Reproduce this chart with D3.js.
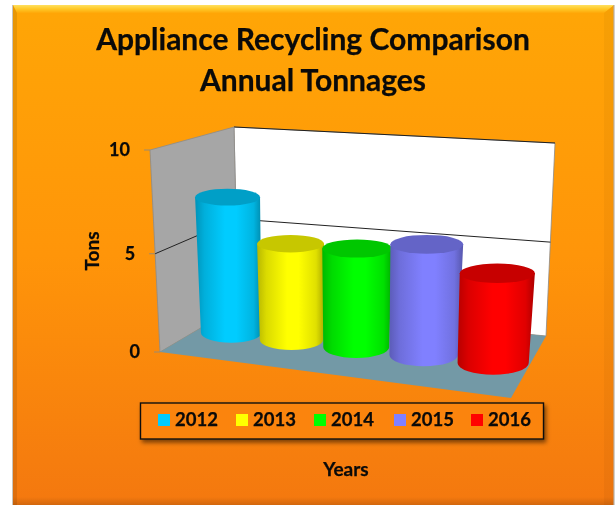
<!DOCTYPE html>
<html><head><meta charset="utf-8">
<script src="https://cdnjs.cloudflare.com/ajax/libs/d3/7.8.5/d3.min.js"></script>
<style>html,body{margin:0;padding:0;background:#fff}svg{display:block;filter:blur(.45px)}text{font-family:Lato,"Open Sans",sans-serif;font-weight:700;fill:#0a0a0a;stroke:#0a0a0a;stroke-width:.25px}</style>
</head><body><div id="c"></div>
<script>
const years = ["2012","2013","2014","2015","2016"];
const tons = [7.15, 5.05, 5.1, 5.6, 4.5];
const colors = ["#00ccff","#ffff00","#00ff00","#8080ff","#ff0000"];
const valueTicks = [0,5,10];
const titleLines = ["Appliance Recycling Comparison","Annual Tonnages"];

const W=615,H=505;
const svg=d3.select("#c").append("svg").attr("width",W).attr("height",H);
const defs=svg.append("defs");

const corners={
  fl0:[160,352], fl1:[150,150], bl0:[238,306], bl1:[234,127],
  fr0:[511,398], fr1:[525,176], br0:[546,336], br1:[555,143]
};
const mix=(a,b,t)=>[a[0]+(b[0]-a[0])*t,a[1]+(b[1]-a[1])*t];
function project(u,v,d){
  const fl=mix(corners.fl0,corners.fl1,v), fr=mix(corners.fr0,corners.fr1,v);
  const bl=mix(corners.bl0,corners.bl1,v), br=mix(corners.br0,corners.br1,v);
  return mix(mix(fl,fr,u),mix(bl,br,u),d);
}
const yScale=d3.scalePow().exponent(1.04).domain([0,10]).range([0,1]);
const band=d3.scaleBand().domain(years).range([0,1]);
const uScale=d3.scalePow().exponent(1.1).domain([0,1]).range([.02,1]);
const widthScale=d3.scaleLinear().domain([.1,.9]).range([.092,.108]);
const line=d3.line();

// background
const bg=defs.append("linearGradient").attr("id","bg").attr("x1",0).attr("y1",0).attr("x2",0).attr("y2",1);
bg.append("stop").attr("offset",0).attr("stop-color","#ffa606");
bg.append("stop").attr("offset",.5).attr("stop-color","#ff9509");
bg.append("stop").attr("offset",1).attr("stop-color","#f4780f");
const topB=defs.append("linearGradient").attr("id","topB").attr("x1",0).attr("y1",0).attr("x2",0).attr("y2",1);
topB.append("stop").attr("offset",0).attr("stop-color","#ffe060");
topB.append("stop").attr("offset",.5).attr("stop-color","#ffc826");
topB.append("stop").attr("offset",1).attr("stop-color","#ffa808");
const botB=defs.append("linearGradient").attr("id","botB").attr("x1",0).attr("y1",0).attr("x2",0).attr("y2",1);
botB.append("stop").attr("offset",0).attr("stop-color","#000").attr("stop-opacity",0);
botB.append("stop").attr("offset",1).attr("stop-color","#000").attr("stop-opacity",.14);
svg.append("rect").attr("x",13).attr("y",5).attr("width",601).attr("height",500).attr("fill","url(#bg)");
svg.append("path").attr("d","M13,5H614L604,13H17Z").attr("fill","url(#topB)");
svg.append("path").attr("d","M13,5L17,13V505H13Z").attr("fill","#000").attr("opacity",.09);
svg.append("path").attr("d","M614,5L604,13V505H614Z").attr("fill","#000").attr("opacity",.035);
svg.append("rect").attr("x",13).attr("y",497).attr("width",601).attr("height",8).attr("fill","url(#botB)");
svg.append("line").attr("x1",614).attr("x2",614).attr("y1",5).attr("y2",505).attr("stroke","#b9b0a4").attr("stroke-width",1.2);
svg.append("line").attr("x1",12.5).attr("x2",12.5).attr("y1",5).attr("y2",505).attr("stroke","#c8c4bc").attr("stroke-width",1);

// titles
svg.selectAll("text.title").data(titleLines).join("text").attr("class","title")
  .attr("x",313).attr("y",(d,i)=>50+i*40.5).attr("text-anchor","middle").attr("font-size",30).text(d=>d);

// walls
const poly=pts=>line(pts)+"Z";
svg.append("path").attr("d",poly([project(0,0,1),project(1,0,1),project(1,1,1),project(0,1,1)]))
  .attr("fill","#fff").attr("stroke","#8a8a8a").attr("stroke-width",.8);
svg.append("path").attr("d",line([project(0,1,1),project(1,1,1)])).attr("stroke","#111").attr("stroke-width",.9).attr("fill","none");
svg.append("path").attr("d",poly([project(0,0,0),project(0,0,1),project(0,1,1),project(0,1,0)]))
  .attr("fill","#a6a6a6").attr("stroke","#8c8c8c").attr("stroke-width",.8);
svg.append("path").attr("d",poly([project(0,0,0),project(1,0,0),project(1,0,1),project(0,0,1)]))
  .attr("fill","#7399a6");

// grid + ticks
valueTicks.filter(v=>v>0&&v<10).forEach(v=>{
  const t=yScale(v);
  svg.append("path").attr("fill","none").attr("stroke","#222").attr("stroke-width",1)
    .attr("d",line([project(0,t,0),project(0,t,1),project(1,t,1)]));
});
valueTicks.forEach(v=>{
  const p=project(0,yScale(v),0);
  svg.append("line").attr("x1",p[0]-6).attr("x2",p[0]).attr("y1",p[1]).attr("y2",p[1]).attr("stroke","#9a8a70");
  svg.append("text").attr("x",p[0]-20).attr("y",p[1]+6).attr("text-anchor","end").attr("font-size",18).text(v);
});

// cylinders
const depth=.5;
years.forEach((yr,i)=>{
  const c=d3.rgb(colors[i]);
  const m=band(yr)+band.bandwidth()/2;
  const u=uScale(m), t=yScale(tons[i]);
  const du=widthScale(m);
  const b0=project(u,0,depth), t0=project(u,t,depth);
  const rxB=(project(u+du,0,depth)[0]-project(u-du,0,depth)[0])/2;
  const rxT=(project(u+du,t,depth)[0]-project(u-du,t,depth)[0])/2*1.03;
  const ryB=rxB*.33, ryT=rxT*.26;
  const g=defs.append("linearGradient").attr("id","cyl"+i);
  [[0,.72],[.14,.86],[.45,1],[.62,1],[.88,.88],[1,.68]].forEach(([o,k])=>{
    g.append("stop").attr("offset",o).attr("stop-color",d3.rgb(c.r*k,c.g*k,c.b*k).formatHex());
  });
  const gp=svg.append("g");
  gp.append("path").attr("fill",`url(#cyl${i})`)
    .attr("d",`M${t0[0]-rxT},${t0[1]}L${b0[0]-rxB},${b0[1]}A${rxB},${ryB} 0 0 0 ${b0[0]+rxB},${b0[1]}L${t0[0]+rxT},${t0[1]}Z`);
  gp.append("ellipse").attr("cx",t0[0]).attr("cy",t0[1]).attr("rx",rxT).attr("ry",ryT)
    .attr("fill",d3.rgb(c.r*.78,c.g*.78,c.b*.78).formatHex());
});

// axis titles
svg.append("text").attr("transform","translate(99,251) rotate(-90)").attr("text-anchor","middle").attr("font-size",19).text("Tons");
svg.append("text").attr("x",346).attr("y",476).attr("text-anchor","middle").attr("font-size",19).text("Years");

// legend
defs.append("filter").attr("id","sh").attr("x","-5%").attr("y","-20%").attr("width","110%").attr("height","150%")
  .append("feDropShadow").attr("dx",2).attr("dy",3).attr("stdDeviation",2).attr("flood-color","#000").attr("flood-opacity",.5);
const legendX=d3.scaleOrdinal().domain(years).range([158,236,314,394,471]);
svg.append("rect").attr("x",140.5).attr("y",403).attr("width",403).attr("height",36).attr("fill","#fb8410")
  .attr("stroke","#111").attr("stroke-width",1.4).attr("filter","url(#sh)");
years.forEach((yr,i)=>{
  const x=legendX(yr);
  svg.append("rect").attr("x",x).attr("y",414).attr("width",12).attr("height",12).attr("fill",colors[i]);
  svg.append("text").attr("x",x+17).attr("y",426).attr("font-size",18.5).text(yr);
});
</script></body></html>
